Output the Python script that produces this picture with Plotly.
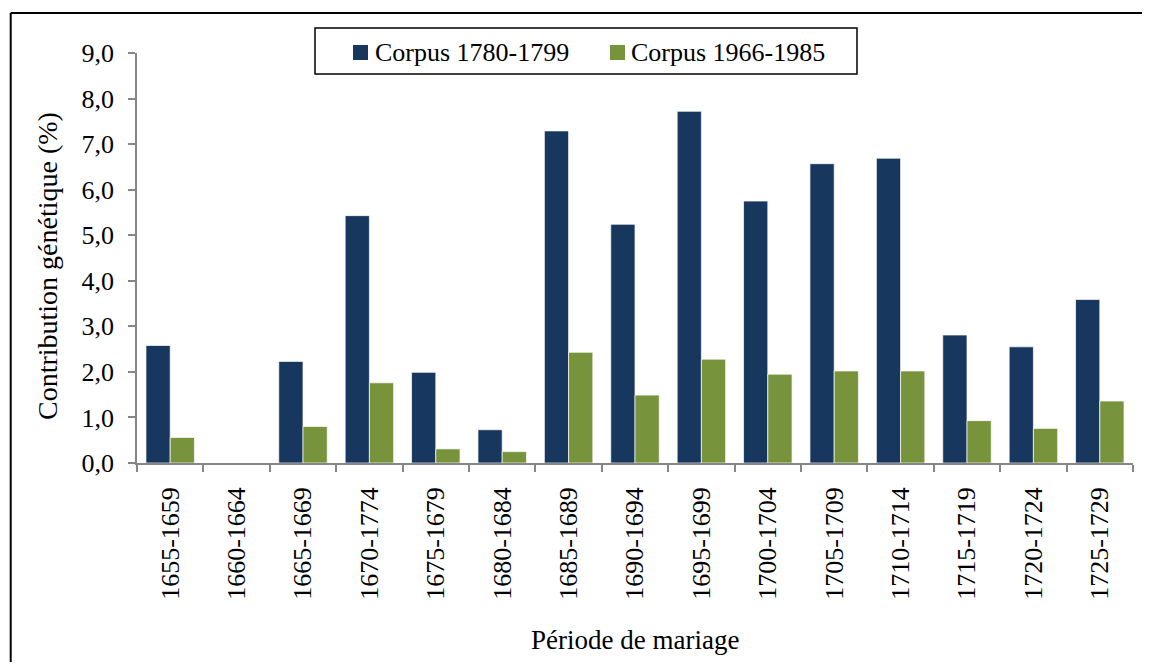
import plotly.graph_objects as go

# Périodes de mariage (catégories de l'axe x)
periodes = [
    "1655-1659", "1660-1664", "1665-1669", "1670-1774", "1675-1679",
    "1680-1684", "1685-1689", "1690-1694", "1695-1699", "1700-1704",
    "1705-1709", "1710-1714", "1715-1719", "1720-1724", "1725-1729",
]

# Contribution génétique (%)
corpus_1780 = [2.58, 0.0, 2.23, 5.43, 1.99, 0.73, 7.29, 5.24, 7.72, 5.75,
               6.57, 6.69, 2.81, 2.55, 3.59]
corpus_1966 = [0.56, 0.0, 0.80, 1.76, 0.31, 0.25, 2.43, 1.49, 2.28, 1.95,
               2.02, 2.02, 0.93, 0.76, 1.36]

y_ticks = [0, 1, 2, 3, 4, 5, 6, 7, 8, 9]

FONT = "Liberation Serif, Times New Roman, serif"
GREY = "#868686"
BLEU = "#17375E"
VERT = "#77933C"

W, H = 1142, 654
# zone de tracé en pixels (page)
PX_L, PX_R, PX_T, PX_B = 137, 1133, 53, 463


def px(x):
    return (x - PX_L) / (PX_R - PX_L)


def py(y):
    return (PX_B - y) / (PX_B - PX_T)


fig = go.Figure()
fig.add_trace(go.Bar(
    x=periodes, y=corpus_1780, name="Corpus 1780-1799", showlegend=False,
    marker=dict(color=BLEU, line=dict(color="rgba(255,255,255,0.7)", width=1)),
))
fig.add_trace(go.Bar(
    x=periodes, y=corpus_1966, name="Corpus 1966-1985", showlegend=False,
    marker=dict(color=VERT, line=dict(color="rgba(255,255,255,0.7)", width=1)),
))

# cadre (haut + gauche) et légende dessinée à la main
shapes = [
    dict(type="line", xref="paper", yref="paper",
         x0=px(10.7), x1=px(1145), y0=py(13), y1=py(13),
         line=dict(color="black", width=2)),
    dict(type="line", xref="paper", yref="paper",
         x0=px(10.7), x1=px(10.7), y0=py(13), y1=py(662),
         line=dict(color="black", width=2)),
    dict(type="rect", xref="paper", yref="paper",
         x0=px(315), x1=px(857), y0=py(74), y1=py(28),
         line=dict(color="black", width=1.5), fillcolor="white"),
    dict(type="rect", xref="paper", yref="paper",
         x0=px(353), x1=px(368), y0=py(60), y1=py(45),
         line=dict(width=0), fillcolor=BLEU),
    dict(type="rect", xref="paper", yref="paper",
         x0=px(610), x1=px(625), y0=py(60), y1=py(45),
         line=dict(width=0), fillcolor=VERT),
]

annotations = [
    dict(text="Corpus 1780-1799", xref="paper", yref="paper", x=px(373), y=py(52),
         xanchor="left", yanchor="middle", showarrow=False, font=dict(size=26)),
    dict(text="Corpus 1966-1985", xref="paper", yref="paper", x=px(629), y=py(52),
         xanchor="left", yanchor="middle", showarrow=False, font=dict(size=26)),
    dict(text="Contribution génétique (%)", xref="paper", yref="paper",
         x=px(47), y=py(266), xanchor="center", yanchor="middle", textangle=-90,
         showarrow=False, font=dict(size=28)),
    dict(text="Période de mariage", xref="paper", yref="paper",
         x=0.5, y=py(640), xanchor="center", yanchor="middle",
         showarrow=False, font=dict(size=27)),
]

fig.update_layout(
    width=W, height=H,
    barmode="group", bargap=0.27, bargroupgap=0,
    separators=", ",
    paper_bgcolor="white", plot_bgcolor="white",
    font=dict(family=FONT, size=26, color="black"),
    margin=dict(l=PX_L - 8, r=W - (PX_R - 8), t=PX_T - 8, b=H - (PX_B - 8),
                autoexpand=False, pad=0),
    showlegend=False,
    xaxis=dict(
        tickangle=-90, ticks="outside", tickson="boundaries", ticklen=7,
        tickcolor=GREY, tickwidth=1.5, showline=True, linecolor=GREY,
        linewidth=1.5, showgrid=False, tickfont=dict(size=26),
        ticklabelstandoff=12, automargin=False,
    ),
    yaxis=dict(
        range=[0, 9], tickvals=y_ticks, tickformat=".1f", ticks="outside",
        ticklen=7, tickcolor=GREY, tickwidth=1.5, showline=True,
        linecolor=GREY, linewidth=1.5, showgrid=False, zeroline=False,
        tickfont=dict(size=26), ticklabelstandoff=9, automargin=False,
    ),
    shapes=shapes,
    annotations=annotations,
)

fig.write_html("out.html")
